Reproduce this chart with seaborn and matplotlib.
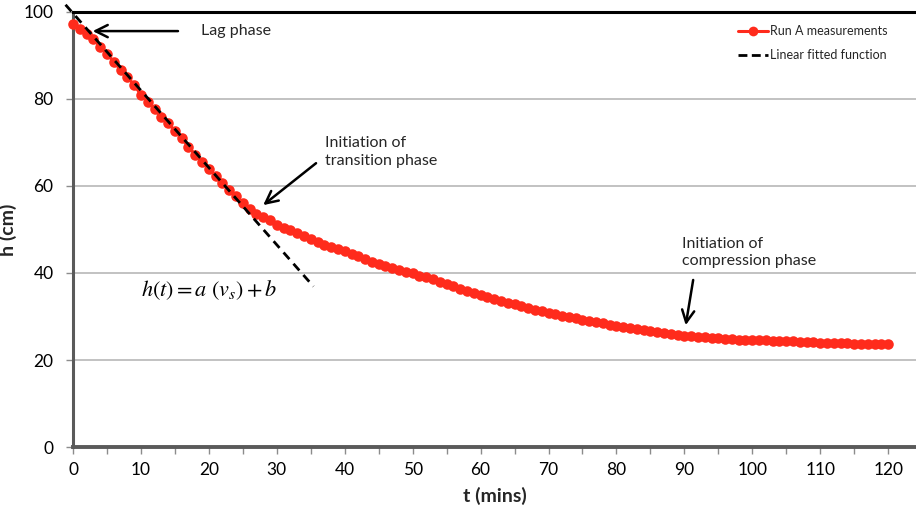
import numpy as np
import pandas as pd
import matplotlib
matplotlib.use("Agg")
import matplotlib.pyplot as plt
from matplotlib.lines import Line2D
from matplotlib.ticker import MultipleLocator
import seaborn as sns

# Settling height of run A, one reading per minute
time_min = list(range(0, 121))
height_cm = [
    97.2, 96.0, 94.9, 93.7, 92.0, 90.3, 88.6, 86.7, 85.1, 83.2,
    81.0, 79.3, 77.7, 75.8, 74.4, 72.7, 71.0, 69.0, 67.2, 65.6,
    64.0, 62.2, 60.6, 59.0, 57.6, 56.0, 54.6, 53.6, 52.8, 52.1,
    51.1, 50.4, 49.9, 49.2, 48.4, 47.7, 47.2, 46.5, 46.0, 45.6,
    45.0, 44.3, 43.8, 43.2, 42.6, 42.0, 41.5, 41.1, 40.7, 40.3,
    39.9, 39.4, 39.0, 38.6, 37.9, 37.4, 36.9, 36.4, 35.9, 35.4,
    34.9, 34.5, 34.0, 33.5, 33.1, 32.8, 32.4, 31.9, 31.5, 31.2,
    30.8, 30.5, 30.2, 29.9, 29.6, 29.3, 29.0, 28.7, 28.4, 28.1,
    27.9, 27.6, 27.4, 27.1, 26.9, 26.6, 26.4, 26.2, 26.0, 25.8,
    25.6, 25.5, 25.3, 25.2, 25.1, 25.0, 24.9, 24.8, 24.7, 24.7,
    24.6, 24.6, 24.5, 24.4, 24.4, 24.3, 24.3, 24.2, 24.2, 24.1,
    24.0, 24.0, 23.9, 23.9, 23.8, 23.7, 23.7, 23.6, 23.6, 23.6,
    23.6,
]

# Linear fit of the free-settling stretch: h(t) = a*t + b
fit_slope = -1.774
fit_intercept = 99.7
fit_t_range = [-1.1, 35.4]

x_ticks = list(range(0, 121, 10))
y_ticks = list(range(0, 101, 20))

RED = "#FF2B1C"
AXIS_GREY = "#5A5A5A"

sns.set_theme(style="white")
plt.rcParams["font.family"] = ["Lato", "DejaVu Sans"]
plt.rcParams["mathtext.fontset"] = "stix"

fig = plt.figure(figsize=(9.16, 5.15), dpi=100)
ax = fig.add_axes([0.0797, 0.132, 0.9203, 0.8448])

df = pd.DataFrame({"t": time_min, "h": height_cm})
sns.lineplot(data=df, x="t", y="h", ax=ax, color=RED, linewidth=2.2,
             marker="o", markersize=7.6, markeredgewidth=0,
             markeredgecolor=RED, clip_on=False, zorder=3)

fit_t = np.array(fit_t_range)
fit_h = fit_slope * fit_t + fit_intercept
ax.plot(fit_t, fit_h, color="black", linestyle=(0, (3.2, 2.2)),
        linewidth=2.0, clip_on=False, zorder=4)

ax.set_xlim(0, 124.1)
ax.set_ylim(0, 100)
ax.set_xticks(x_ticks)
ax.set_yticks(y_ticks)
ax.xaxis.set_minor_locator(MultipleLocator(5))

ax.yaxis.grid(True, color="#BDBDBD", linewidth=1.3)
ax.xaxis.grid(False)
ax.set_axisbelow(True)

ax.spines["right"].set_visible(False)
ax.spines["top"].set_color("black")
ax.spines["top"].set_linewidth(2.2)
ax.spines["left"].set_color(AXIS_GREY)
ax.spines["left"].set_linewidth(2.2)
ax.spines["bottom"].set_color(AXIS_GREY)
ax.spines["bottom"].set_linewidth(2.8)

ax.tick_params(axis="y", which="major", direction="out", length=5,
               width=1.0, color="#8C8C8C", labelsize=12.5, pad=9,
               left=True, labelcolor="black")
ax.tick_params(axis="x", which="major", direction="out", length=5,
               width=1.0, color="#8C8C8C", labelsize=12.5, pad=6,
               bottom=True, labelcolor="black")
ax.tick_params(axis="x", which="minor", direction="out", length=5,
               width=1.0, color="#8C8C8C", bottom=True)

ax.set_xlabel("t (mins)", fontsize=14, fontweight="bold", labelpad=6)
ax.set_ylabel("h (cm)", fontsize=14, fontweight="bold")
ax.yaxis.set_label_coords(-0.066, 0.5)

arrow_style = dict(arrowstyle="->", color="black", lw=1.8,
                   mutation_scale=22)

ax.annotate("Lag phase", xy=(2.9, 95.6), xytext=(18.8, 95.6),
            fontsize=11.5, va="center", ha="left",
            arrowprops=dict(arrow_style, shrinkA=14, shrinkB=0))

ax.annotate("Initiation of\ntransition phase", xy=(28.0, 55.6),
            xytext=(37.1, 67.8), fontsize=11.5, va="center", ha="left",
            linespacing=1.35,
            arrowprops=dict(arrow_style, shrinkA=0, shrinkB=0,
                            relpos=(-0.08, 0.15)))

ax.annotate("Initiation of\ncompression phase", xy=(90.2, 28.0),
            xytext=(89.6, 44.7), fontsize=11.5, va="center", ha="left",
            linespacing=1.35,
            arrowprops=dict(arrow_style, shrinkA=6, shrinkB=0,
                            relpos=(0.1, 0.0)))

ax.text(10.0, 36.0, r"$h(t) = a\ (v_s) + b$", fontsize=16,
        va="center", ha="left", color="black")

handles = [
    Line2D([0], [0], color=RED, linewidth=2.2, marker="o", markersize=7,
           markeredgewidth=0),
    Line2D([0], [0], color="black", linewidth=2.0,
           linestyle=(0, (3.2, 1.6))),
]
ax.legend(handles, ["Run A measurements", "Linear fitted function"],
          loc="upper right", bbox_to_anchor=(0.976, 0.99), frameon=False,
          fontsize=9, handlelength=2.4, handletextpad=0.1,
          labelspacing=0.95, borderaxespad=0.3)

fig.savefig("out.png", dpi=100)
